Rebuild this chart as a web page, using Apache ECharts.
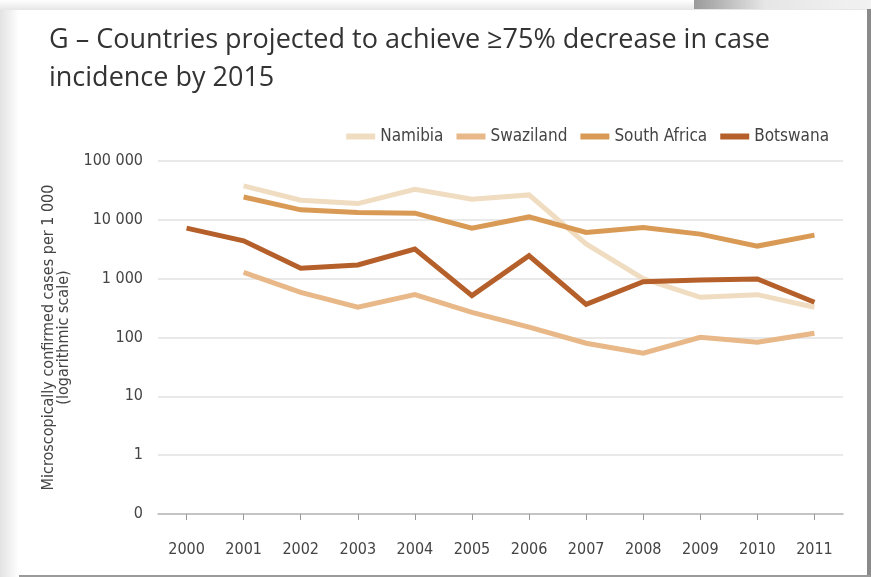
<!DOCTYPE html>
<html>
<head>
<meta charset="utf-8">
<script src="https://cdn.jsdelivr.net/npm/echarts@6/dist/echarts.min.js"></script>
<style>
html,body{margin:0;padding:0;background:#fff;}
#chart{width:871px;height:577px;}
</style>
</head>
<body>
<div id="chart"></div>
<script>
const years = ['2000','2001','2002','2003','2004','2005','2006','2007','2008','2009','2010','2011'];
const namibia = [null, 37700, 21600, 18900, 33100, 22400, 26500, 3900, 1000, 482, 535, 327];
const swaziland = [null, 1280, 586, 327, 535, 268, 150, 80, 54, 101, 83, 118];
const southAfrica = [null, 24500, 14800, 13300, 13000, 7230, 11200, 6090, 7400, 5720, 3580, 5500];
const botswana = [7230, 4400, 1500, 1710, 3190, 515, 2450, 365, 890, 950, 990, 397];
const seriesNames = ['Namibia', 'Swaziland', 'South Africa', 'Botswana'];
const colors = ['#f0dcc0', '#e8b888', '#d99a56', '#b5602a'];

const labelFont = '"DejaVu Sans", sans-serif';
const condStyle = 'condensed';
const chart = echarts.init(document.getElementById('chart'));

function fmt(v) {
  if (v < 1) return '0';
  return String(Math.round(v)).replace(/\B(?=(\d{3})+(?!\d))/g, ' ');
}

const datasets = [namibia, swaziland, southAfrica, botswana];

chart.setOption({
  animation: false,
  backgroundColor: '#fff',
  title: {
    text: 'G – Countries projected to achieve ≥75% decrease in case\nincidence by 2015',
    left: 44,
    top: 16,
    textStyle: {
      fontFamily: '"Open Sans", sans-serif',
      fontWeight: 'normal',
      fontSize: 27,
      lineHeight: 38,
      color: '#333'
    }
  },
  graphic: [
    { type: 'rect', left: 0, top: 0, shape: { width: 19, height: 577 }, silent: true,
      style: { fill: new echarts.graphic.LinearGradient(0, 0, 1, 0, [{offset: 0, color: '#e2e2e2'}, {offset: 1, color: '#ffffff'}]) } },
    { type: 'rect', left: 0, top: 0, shape: { width: 871, height: 10 }, silent: true,
      style: { fill: new echarts.graphic.LinearGradient(0, 0, 0, 1, [{offset: 0, color: '#ffffff'}, {offset: 1, color: '#e6e6e6'}]) } },
    { type: 'rect', left: 694, top: 0, shape: { width: 177, height: 9 }, silent: true,
      style: { fill: new echarts.graphic.LinearGradient(0, 0, 1, 0, [{offset: 0, color: '#9a9a9a'}, {offset: 0.4, color: '#e6e6e6'}, {offset: 1, color: '#f2f2f2'}]) } },
    { type: 'rect', left: 867, top: 9, shape: { width: 4, height: 568 }, silent: true,
      style: { fill: '#8a8a8a' } },
    { type: 'rect', left: 19, top: 575, shape: { width: 852, height: 2 }, silent: true,
      style: { fill: '#9a9a9a' } }
  ],
  legend: {
    data: seriesNames,
    right: 37,
    top: 123,
    icon: 'rect',
    itemWidth: 29,
    itemHeight: 6,
    itemGap: 13,
    textStyle: { fontFamily: labelFont, fontStyle: condStyle, fontSize: 17, color: '#444' }
  },
  grid: { left: 158, right: 28, top: 161, bottom: 63, containLabel: false },
  xAxis: {
    type: 'category',
    data: years,
    boundaryGap: true,
    axisLine: { show: true, lineStyle: { color: '#b8b8b8', width: 1.5 } },
    axisTick: { show: true, alignWithLabel: true, length: 6, lineStyle: { color: '#999' } },
    axisLabel: { fontFamily: labelFont, fontStyle: condStyle, fontSize: 16, color: '#444', margin: 28 },
    splitLine: { show: false }
  },
  yAxis: {
    type: 'log',
    logBase: 10,
    min: 0.1,
    max: 100000,
    name: 'Microscopically confirmed cases per 1 000\n(logarithmic scale)',
    nameLocation: 'middle',
    nameGap: 87,
    nameRotate: 90,
    nameTextStyle: { fontFamily: labelFont, fontStyle: condStyle, fontSize: 16, color: '#444', lineHeight: 15 },
    axisLine: { show: false },
    axisTick: { show: false },
    axisLabel: { fontFamily: labelFont, fontStyle: condStyle, fontSize: 16, color: '#444', margin: 15, formatter: fmt },
    splitLine: { show: true, lineStyle: { color: '#e2e2e2', width: 1.5 } }
  },
  series: seriesNames.map((name, i) => ({
    name: name,
    type: 'line',
    data: datasets[i],
    symbol: 'none',
    showSymbol: false,
    connectNulls: false,
    color: colors[i],
    lineStyle: { color: colors[i], width: 5, cap: 'butt', join: 'miter' }
  }))
});
</script>
</body>
</html>
